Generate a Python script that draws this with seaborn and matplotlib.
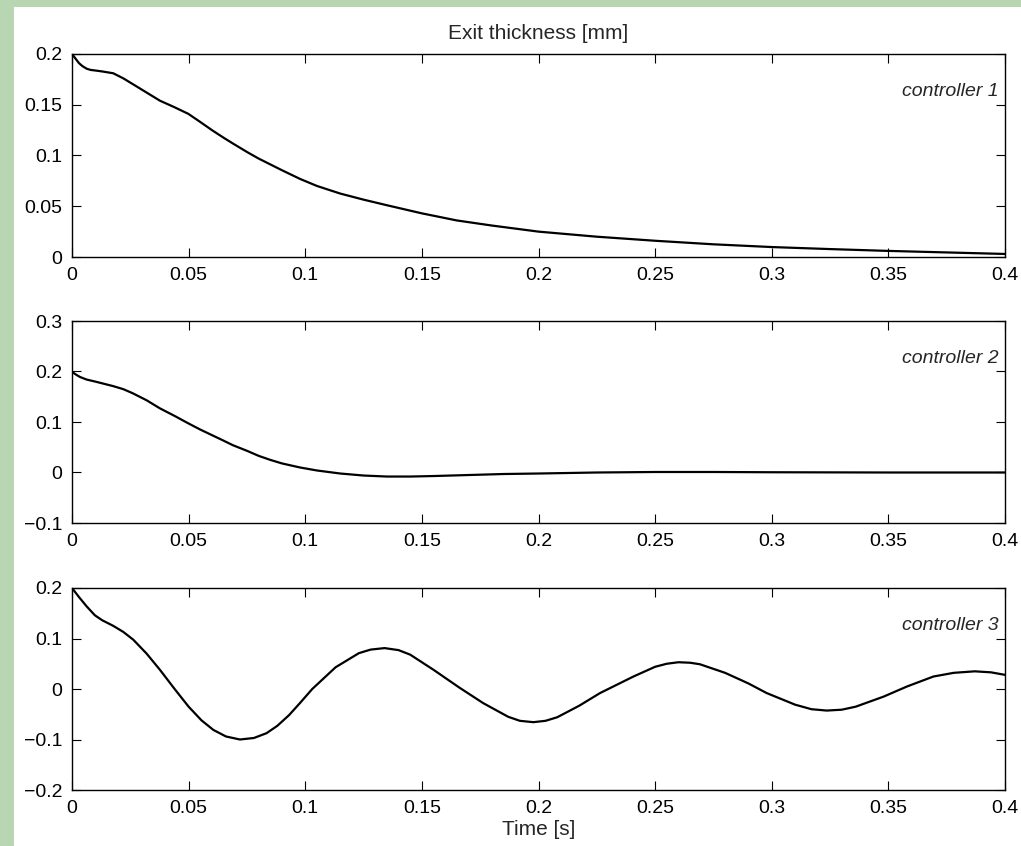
import numpy as np
import pandas as pd
import matplotlib
matplotlib.use("Agg")
import matplotlib.pyplot as plt
from matplotlib.patches import Rectangle
import seaborn as sns

# Values
t1 = [0, 0.001, 0.002, 0.003, 0.0045, 0.0063, 0.008, 0.0098, 0.013, 0.0177, 0.022, 0.0263,
      0.032, 0.0377, 0.044, 0.0499, 0.055, 0.06, 0.065, 0.069, 0.075, 0.08, 0.09, 0.0977,
      0.105, 0.115, 0.125, 0.135, 0.15, 0.165, 0.18, 0.2, 0.225, 0.25, 0.275, 0.3, 0.325,
      0.35, 0.375, 0.4]
y1 = [0.2, 0.197, 0.194, 0.191, 0.188, 0.1855, 0.1843, 0.1838, 0.1828, 0.181, 0.176, 0.170,
      0.162, 0.154, 0.1475, 0.141, 0.133, 0.125, 0.1175, 0.1118, 0.1035, 0.097, 0.0855,
      0.077, 0.070, 0.0625, 0.0565, 0.051, 0.043, 0.036, 0.031, 0.025, 0.020, 0.016, 0.0125,
      0.0098, 0.0078, 0.006, 0.0045, 0.003]

t2 = [0, 0.001, 0.002, 0.0035, 0.0063, 0.01, 0.0177, 0.022, 0.026, 0.032, 0.0377, 0.044,
      0.05, 0.055, 0.06, 0.065, 0.069, 0.075, 0.08, 0.085, 0.09, 0.0977, 0.105, 0.115,
      0.125, 0.135, 0.145, 0.155, 0.17, 0.185, 0.2, 0.225, 0.25, 0.275, 0.3, 0.35, 0.4]
y2 = [0.2, 0.196, 0.193, 0.189, 0.184, 0.180, 0.171, 0.165, 0.157, 0.143, 0.127, 0.112,
      0.097, 0.085, 0.074, 0.063, 0.054, 0.043, 0.033, 0.025, 0.018, 0.010, 0.004, -0.002,
      -0.006, -0.008, -0.008, -0.007, -0.005, -0.003, -0.002, 0.0, 0.001, 0.001, 0.0005,
      0.0, 0.0]

t3 = [0, 0.003, 0.0063, 0.0098, 0.013, 0.0177, 0.022, 0.0263, 0.032, 0.0377, 0.044, 0.05,
      0.0555, 0.0606, 0.066, 0.072, 0.078, 0.0834, 0.088, 0.093, 0.0977, 0.103, 0.113,
      0.123, 0.128, 0.134, 0.14, 0.145, 0.155, 0.166, 0.1763, 0.187, 0.192, 0.1978, 0.203,
      0.208, 0.2175, 0.2264, 0.2407, 0.25, 0.255, 0.26, 0.265, 0.2692, 0.28, 0.29, 0.2978,
      0.31, 0.317, 0.3236, 0.33, 0.336, 0.348, 0.358, 0.3693, 0.378, 0.387, 0.394, 0.4]
y3 = [0.2, 0.182, 0.1635, 0.146, 0.136, 0.125, 0.113, 0.0975, 0.07, 0.038, 0.0, -0.035,
      -0.062, -0.081, -0.094, -0.1, -0.097, -0.0875, -0.073, -0.052, -0.028, 0.0, 0.043,
      0.071, 0.078, 0.081, 0.077, 0.068, 0.038, 0.003, -0.028, -0.055, -0.063, -0.0657,
      -0.063, -0.056, -0.033, -0.008, 0.0247, 0.044, 0.050, 0.053, 0.052, 0.049, 0.032,
      0.011, -0.008, -0.031, -0.040, -0.0427, -0.041, -0.035, -0.015, 0.005, 0.0247, 0.032,
      0.035, 0.033, 0.028]

labels = ["controller 1", "controller 2", "controller 3"]
ylims = [(0, 0.2), (-0.1, 0.3), (-0.2, 0.2)]
yticks = [[0, 0.05, 0.1, 0.15, 0.2], [-0.1, 0, 0.1, 0.2, 0.3], [-0.2, -0.1, 0, 0.1, 0.2]]
ytick_labels = [["0", "0.05", "0.1", "0.15", "0.2"],
                ["\u22120.1", "0", "0.1", "0.2", "0.3"],
                ["\u22120.2", "\u22120.1", "0", "0.1", "0.2"]]
xticks = [0, 0.05, 0.1, 0.15, 0.2, 0.25, 0.3, 0.35, 0.4]
xtick_labels = ["0", "0.05", "0.1", "0.15", "0.2", "0.25", "0.3", "0.35", "0.4"]

sns.set_style("ticks")
plt.rcParams['font.family'] = ['Liberation Sans', 'DejaVu Sans']

W, H = 1021, 846
fig = plt.figure(figsize=(W / 100, H / 100), dpi=100)
fig.patch.set_facecolor("#b9d6b3")
fig.patches.append(Rectangle((14 / W, 0), 1 - 14 / W, 1 - 7 / H, transform=fig.transFigure,
                             facecolor="white", edgecolor="none", zorder=-1))

left, width = 72 / W, 933 / W
boxes = [(257, 203), (523, 202), (790, 202)]
series = [(t1, y1), (t2, y2), (t3, y3)]

for i, ((bot, h), (t, y)) in enumerate(zip(boxes, series)):
    ax = fig.add_axes([left, (H - bot) / H, width, h / H])
    df = pd.DataFrame({"t": t, "y": y})
    sns.lineplot(data=df, x="t", y="y", ax=ax, color="black", linewidth=1.6)
    ax.set_xlim(0, 0.4)
    ax.set_ylim(*ylims[i])
    ax.set_xticks(xticks)
    ax.set_xticklabels(xtick_labels)
    ax.set_yticks(yticks[i])
    ax.set_yticklabels(ytick_labels[i])
    ax.tick_params(direction="in", length=6.5, width=0.8, top=True, right=True,
                   labelsize=14, colors="black", pad=7)
    for s in ax.spines.values():
        s.set_visible(True)
        s.set_linewidth(1.0)
        s.set_color("black")
    ax.set_xlabel("")
    ax.set_ylabel("")
    ax.text(0.993, 0.815, labels[i], transform=ax.transAxes, ha="right", va="center",
            fontsize=14, style="italic")
    if i == 0:
        ax.set_title("Exit thickness [mm]", fontsize=15, pad=11)
    if i == 2:
        ax.set_xlabel("Time [s]", fontsize=15, labelpad=2)

fig.savefig("out.png", dpi=100, facecolor=fig.get_facecolor())
